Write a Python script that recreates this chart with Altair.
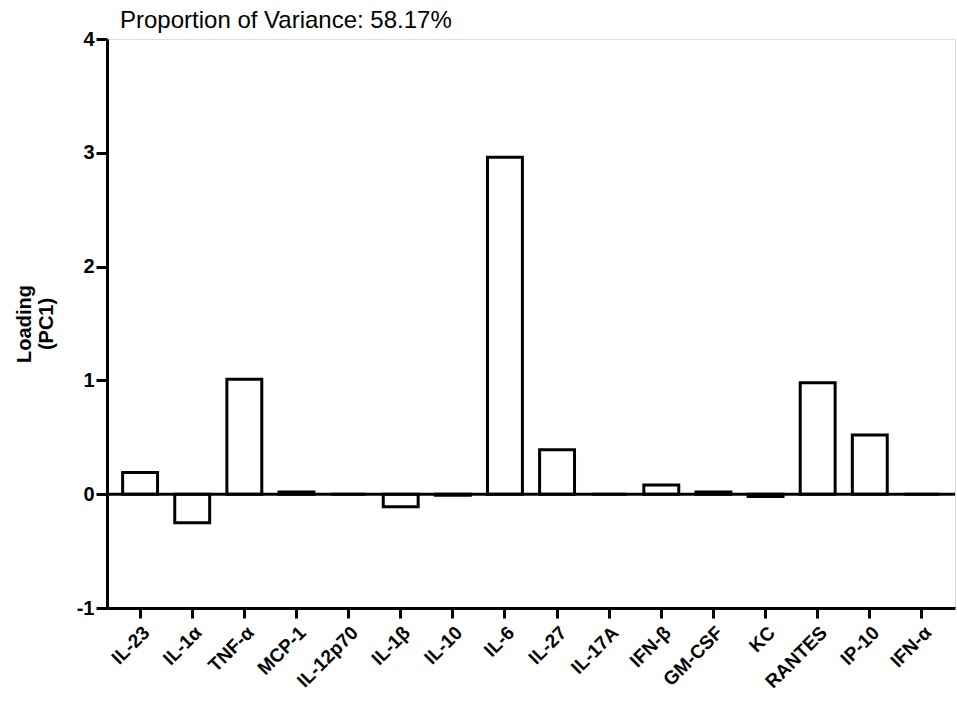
import altair as alt
import pandas as pd

cytokines = ["IL-23", "IL-1α", "TNF-α", "MCP-1", "IL-12p70", "IL-1β", "IL-10", "IL-6",
             "IL-27", "IL-17A", "IFN-β", "GM-CSF", "KC", "RANTES", "IP-10", "IFN-α"]
loadings = [0.19, -0.25, 1.01, 0.02, 0.0, -0.11, -0.01, 2.96,
            0.39, 0.0, 0.08, 0.02, -0.02, 0.98, 0.52, 0.0]
y_ticks = [-1, 0, 1, 2, 3, 4]
variance_text = "Proportion of Variance: 58.17%"

df = pd.DataFrame({"cytokine": cytokines, "loading": loadings})
FONT = "Liberation Sans"

x_enc = alt.X(
    "cytokine:N",
    sort=cytokines,
    scale=alt.Scale(paddingInner=0.33, paddingOuter=0.3),
    axis=alt.Axis(
        title=None, labelAngle=-45, labelFont=FONT, labelFontSize=19,
        labelFontWeight="bold", labelColor="black",
        tickSize=10, tickWidth=3, tickColor="black", domainWidth=3,
        domainColor="black", labelPadding=5,
    ),
)
y_scale = alt.Scale(domain=[-1, 4], nice=False, zero=False)

bars = alt.Chart(df).mark_bar(fill="white", stroke="black", strokeWidth=3).encode(
    x=x_enc,
    y=alt.Y(
        "loading:Q", scale=y_scale,
        axis=alt.Axis(
            title=["Loading", "(PC1)"], values=y_ticks, grid=False,
            labelExpr="'' + datum.value",
            labelFont=FONT, labelFontSize=20, labelFontWeight="bold", labelColor="black",
            tickSize=11, tickWidth=3, tickColor="black", domainWidth=3, domainColor="black",
            titleFont=FONT, titleFontSize=20, titleFontWeight="bold", titleColor="black",
            titlePadding=20, labelPadding=2,
        ),
    ),
    y2=alt.datum(0),
)

zero_line = alt.Chart(pd.DataFrame({"v": [0]})).mark_rule(color="black", strokeWidth=3).encode(
    y=alt.Y("v:Q", scale=y_scale)
)

chart = (
    alt.layer(bars, zero_line)
    .properties(
        width=848, height=569,
        title=alt.TitleParams(
            variance_text, anchor="start", frame="group", dx=13, offset=-4,
            font=FONT, fontSize=24, fontWeight="normal", color="black",
        ),
        autosize=alt.AutoSizeParams(type="none"),
        padding={"left": 107, "top": 39, "right": 2, "bottom": 98},
    )
    .configure_view(stroke=None)
    .configure(background="white")
)

chart.save("out.html", embed_options={"renderer": "svg", "actions": False})
